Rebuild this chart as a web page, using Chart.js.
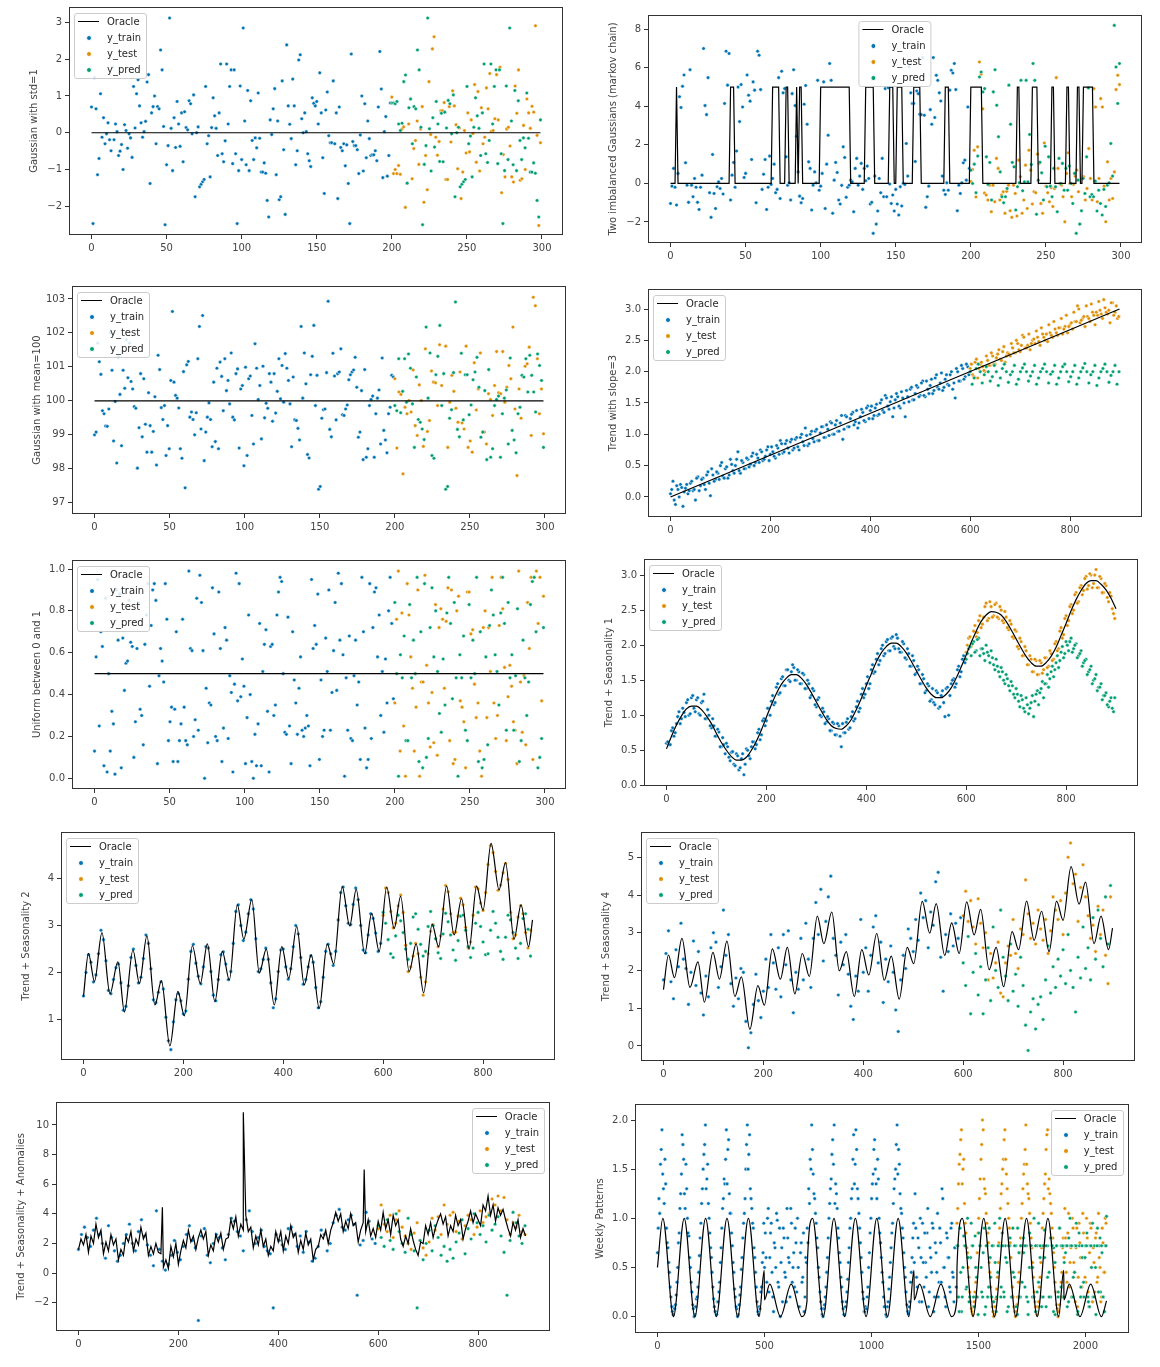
<!DOCTYPE html>
<html>
<head>
<meta charset="utf-8">
<script src="https://cdn.jsdelivr.net/npm/chart.js@4.4.0/dist/chart.umd.min.js"></script>
<style>
  body { margin: 0; background: #fff; width: 1160px; height: 1367px; position: relative; overflow: hidden; font-family: "DejaVu Sans", sans-serif; }
  .panel { position: absolute; }
  .panel canvas { display: block; }
  .legend { position: absolute; border: 1px solid #cccccc; border-radius: 3px; background: rgba(255,255,255,0.85);
            padding: 0 5px 0 3px; font: 10px "DejaVu Sans", sans-serif; color: #262626; }
  .legend .row { height: 16px; line-height: 16px; white-space: nowrap; }
  .legend .h { display: inline-block; width: 21px; height: 16px; vertical-align: top; position: relative; margin-right: 8px; }
  .legend .ln { position: absolute; left: 0; right: 0; top: 7px; height: 1.4px; background: #000; }
  .legend .dt { position: absolute; left: 8px; top: 5px; width: 4px; height: 4px; border-radius: 50%; border: 0.6px solid #fff; }
</style>
</head>
<body>
<script>
// ---- tick labels ----
const xTicks300 = [0, 50, 100, 150, 200, 250, 300];
const xTicks900 = [0, 200, 400, 600, 800];
const xTicks2100 = [0, 500, 1000, 1500, 2000];
const p1YTicks = [-2, -1, 0, 1, 2, 3];
const p2YTicks = [-2, 0, 2, 4, 6, 8];
const p3YTicks = [97, 98, 99, 100, 101, 102, 103];
const p4YTicks = [0, 0.5, 1, 1.5, 2, 2.5, 3];
const p5YTicks = [0, 0.2, 0.4, 0.6, 0.8, 1];
const p6YTicks = [0, 0.5, 1, 1.5, 2, 2.5, 3];
const p7YTicks = [1, 2, 3, 4];
const p8YTicks = [0, 1, 2, 3, 4, 5];
const p9YTicks = [-2, 0, 2, 4, 6, 8, 10];
const p10YTicks = [0, 0.5, 1, 1.5, 2];

// ---- 1: Gaussian with std=1 ----
const p1OracleX = [0, 299];
const p1OracleY = [0, 0];
const p1Train = [0.70,-2.47,1.5,0.65,-1.14,-0.70,1.06,-0.12,0.41,-0.30,-0.03,0.27,-0.19,-0.49,1.78,-0.19,0.24,0.03,-0.62,-0.50,-0.32,-1.0,0.22,0.06,-0.42,-0.03,-0.14,-0.67,1.26,0.13,1.06,1.44,0.73,0.27,-0.12,0.03,0.31,1.38,1.58,-1.38,0.54,0.71,1.0,-0.30,0.71,0.65,2.25,1.71,0.17,-2.5,-0.87,-0.35,3.12,0.12,-1.03,0.41,-0.40,0.85,0.24,-0.37,0.54,-0.79,0.57,0.14,0.08,0.87,0.79,-0.03,1.03,-1.74,0.0,0.16,-1.47,-1.40,-1.33,-1.27,1.26,-0.30,-0.08,-1.20,0.14,0.95,0.46,0.12,-0.62,0.54,1.87,-0.57,-0.79,-0.22,1.87,0.24,1.26,1.71,-0.84,1.71,-0.57,-2.47,-1.03,1.27,-0.73,2.85,0.32,-0.87,1.15,-1.03,0.87,-0.21,-0.73,-0.14,-0.41,1.08,-0.15,-1.07,-1.07,-0.82,-1.1,-1.84,-2.29,0.35,-0.05,0.65,1.2,-1.14,0.32,-1.82,-1.74,1.41,-0.46,-2.22,2.39,0.73,0.23,-0.16,1.46,0.73,-0.87,-0.49,1.98,2.12,0.38,0.0,0.54,0.03,-0.57,-0.76,-0.92,0.95,0.8,0.73,0.85,0.24,1.63,0.54,-0.68,-1.65,0.62,1.11,-0.08,-0.27,-0.27,1.41,-0.30,0.54,-1.79,0.70,-0.40,-0.49,-0.30,-0.90,-0.33,-1.38,-2.47,2.14,-0.24,-0.35,-0.35,-0.46,-1.11,-0.06,1.0,-1.04,0.79,-0.68,0.32,-0.16,-0.62,-0.60,-0.60,-0.49,-0.76,0.70,2.21,1.19,-1.22,0.03,0.44,-1.18,-0.62,0.81];
const p1Test = [0.97,-1.11,-1.0,-1.11,-0.89,-1.13,0.1,0.16,-2.03,-1.38,0.24,0.92,-1.25,-0.43,-0.21,0.32,-0.86,0.1,0.71,-1.89,-0.62,-1.55,1.39,-0.05,2.28,2.61,-0.12,-0.61,-0.24,0.6,0.6,0.82,-1.27,-1.27,0.71,-0.25,1.14,0.73,0.22,-0.98,0.13,-1.79,-1.07,0.06,-0.55,0.54,-0.52,0.35,-0.02,1.31,-0.8,1.12,-1.04,0.68,-0.30,-0.12,1.22,0.65,1.61,0.04,0.06,0.38,1.58,0.35,1.78,-1.63,-0.59,-1.2,0.1,0.15,-0.36,-1.20,-1.34,1.27,0.53,1.71,-1.29,-1.25,0.2,-1.0,0.92,0.54,0.12,0.72,0.56,2.91,-0.07,-2.52,-0.27];
const p1Pred = [0.81,0.81,0.79,0.85,0.24,0.06,0.26,1.39,1.57,-1.37,0.68,0.92,-0.30,0.71,0.65,2.25,1.71,0.15,-2.5,-0.86,-0.35,3.12,0.11,-1.04,0.41,-0.39,0.85,0.24,-0.78,0.53,-0.79,0.56,0.13,0.88,0.79,-0.03,1.03,-1.74,0.0,0.15,-1.47,-1.40,-1.33,-1.27,1.26,-0.30,-0.09,-1.20,0.15,0.95,0.46,0.12,-0.62,0.54,1.87,-0.57,-0.81,-0.21,1.87,0.24,1.26,1.71,-0.84,1.71,-0.57,-2.47,-1.03,1.27,-0.73,2.85,0.32,-0.87,1.15,-1.03,0.87,-0.21,-0.73,-0.14,-0.41,1.08,-0.15,-1.07,-1.07,-0.82,-1.1,-1.84,-2.29,0.35];

// ---- 2: Two imbalanced Gaussians (markov chain) ----
const p2OracleX = [0,3,4,5, 39,40,42,43, 67,68,72,73, 76,77,78,79, 83,84,85, 86,87,88, 99,100,119,120, 129,130,135,136, 145,146,148,149, 150,151,154,155, 161,162,166,167, 182,183,185,186, 199,200,207,208, 230,231,232,233, 240,241,244,245, 253,254,255,256, 263,264,265,266, 270,271,272,273, 274,275,281,282, 299];
const p2OracleY = [0,0,5,0, 0,5,5,0, 0,5,5,0, 0,5,5,0, 0,5,0, 5,5,0, 0,5,5,0, 0,5,5,0, 0,5,5,0, 0,5,5,0, 0,5,5,0, 0,5,5,0, 0,5,5,0, 0,5,5,0, 0,5,5,0, 0,5,5,0, 0,5,5,0, 0,5,5,0, 0,5,5,0, 0];
const p2Train = [-1.04,-0.14,0.78,-0.2,-1.12,0.52,4.5,3.94,5.04,5.63,1.07,-0.09,-0.98,5.9,-0.09,-0.69,0.26,-0.2,-0.98,-1.35,-0.2,0.43,7.0,4.04,3.57,5.49,-0.48,-1.76,1.5,-0.52,-1.3,-0.17,0.08,-0.26,0.26,-0.55,4.15,6.86,5.1,6.74,-0.86,0.43,1.09,-0.2,1.68,5.0,3.21,5.13,3.97,0.31,0.52,5.63,4.58,4.27,1.24,5.27,4.84,-1.0,6.86,6.65,4.87,-0.31,0.48,1.24,-1.35,-0.2,1.42,-0.05,0.26,1.0,-0.48,-0.31,5.49,-0.78,5.82,4.7,4.92,1.38,-0.09,0.03,-0.86,4.66,5.9,4.04,2.45,0.6,-0.66,-1.0,-0.78,4.11,5.08,3.07,1.12,0.78,-1.38,-0.09,0.6,0.03,5.35,-0.35,-0.14,0.52,5.27,-1.3,1.0,2.5,6.22,5.35,-1.55,0.17,1.09,0.57,-0.86,-1.07,-0.1,1.9,1.35,-0.72,-0.2,-0.09,0.17,0.08,-1.47,0.78,1.3,-0.09,0.38,1.04,-0.31,0.78,0.14,0.9,0.26,-1.07,-0.98,-2.59,0.38,-2.11,-1.43,0.26,-0.48,1.3,-0.69,4.92,-0.69,4.97,-0.03,-1.04,-0.6,-1.43,-0.31,-1.07,-1.64,-0.17,-1.17,0.0,-0.05,2.07,0.38,6.04,4.7,4.15,4.15,1.14,4.8,4.66,3.59,3.57,6.53,3.54,-1.24,-0.69,-0.14,3.83,3.07,6.53,3.42,5.61,5.35,4.7,4.28,0.38,-0.35,-0.57,0.03,-0.35,4.84,5.87,5.73,6.22,4.87,-1.42,-0.09,-0.52,0.03,1.07,1.21,0.17,3.97,0.78];
const p2Test = [0.1,0.72,1.72,-0.7,1.9,6.3,5.67,3.87,-0.5,-0.6,-0.86,-0.09,-1.47,-0.09,-0.95,1.3,0.78,-0.86,-0.6,-0.43,-1.55,-0.41,-0.09,-1.42,-1.76,-0.09,-0.52,-1.69,1.21,0.35,-1.55,-0.86,0.95,-1.3,1.72,0.69,-1.07,-0.43,-0.48,1.52,1.04,-1.04,-1.55,2.1,-0.14,-0.48,-0.95,-0.22,-1.2,-0.26,5.49,0.78,0.0,-0.09,-0.69,-1.99,0.52,1.59,0.0,-0.69,-0.05,0.38,0.69,-0.43,-2.11,0.26,0.35,-0.86,-0.26,1.81,0.26,-0.86,4.92,3.97,-0.95,0.26,4.4,3.97,-0.14,-1.99,1.12,-0.86,0.26,-0.78,0.6,4.87,5.61,5.13];
const p2Pred = [0.69,0.0,1.0,-0.48,1.42,5.52,5.78,4.75,4.92,1.38,-0.05,1.09,-0.86,4.75,5.9,4.06,2.42,0.6,-0.69,-1.0,-0.69,-0.26,5.1,3.07,1.09,0.86,-1.38,-0.17,0.03,5.35,-0.38,0.08,5.35,0.08,2.54,0.98,6.22,5.35,-1.6,0.17,1.1,0.55,-0.86,1.93,-0.17,1.38,-0.14,-0.69,0.78,-0.17,-1.47,1.3,0.0,1.04,-0.35,0.78,-0.35,0.9,0.0,-1.04,0.52,-2.59,0.17,-2.11,-1.42,0.26,-0.52,1.38,4.95,-0.69,-0.57,-0.69,0.12,-1.43,-0.35,-1.04,-1.64,-0.31,-1.2,-0.09,0.03,2.07,0.38,8.2,6.04,4.15,6.22];

// ---- 3: Gaussian with mean=100 ----
const p3OracleX = [0, 299];
const p3OracleY = [100, 100];
const p3Train = [99.0,99.08,101.7,101.15,100.78,99.71,99.62,99.26,99.25,99.76,102.0,100.9,98.82,99.98,98.17,101.3,100.19,98.68,100.9,100.37,101.8,100.68,101.7,100.57,100.35,99.83,99.78,98.02,99.21,100.8,98.94,100.65,99.31,98.49,100.24,99.27,98.49,99.1,100.12,98.11,101.34,100.92,99.8,99.45,99.86,98.39,99.27,98.59,100.6,102.63,100.55,100.16,100.08,99.79,98.59,98.31,100.86,97.44,101.06,101.16,99.52,99.67,99.45,99.0,99.65,101.24,102.19,99.17,102.51,98.24,99.08,99.52,99.94,99.45,98.65,100.55,98.8,100.96,98.59,101.14,100.72,99.71,101.24,100.3,100.6,99.91,101.41,99.52,99.44,100.8,100.94,98.61,100.35,100.45,98.09,100.99,98.39,100.65,100.73,99.57,98.73,101.68,100.96,100.04,100.45,98.88,101.02,99.5,99.93,99.78,100.8,100.55,99.4,100.8,99.64,100.28,101.24,100.06,101.04,99.96,101.39,100.96,100.6,99.91,98.65,100.7,99.44,99.42,99.19,98.85,102.19,100.08,101.41,100.5,98.42,98.32,100.77,101.31,102.22,99.86,100.75,97.4,97.48,99.49,99.74,99.76,100.83,102.93,99.16,98.94,101.4,100.73,99.44,100.8,100.85,101.53,99.59,99.57,99.76,99.88,100.62,100.77,100.85,100.91,101.28,100.4,98.93,99.08,100.3,98.27,100.92,98.34,98.59,99.86,100.04,100.14,98.34,99.62,100.08,100.32,98.73,101.26,99.13,98.85,98.47,99.62,99.81,100.75,100.7];
const p3Test = [100.65,98.61,100.26,100.19,97.85,99.81,99.62,100.01,99.67,100.91,99.27,98.98,100.47,100.01,98.66,101.53,99.1,99.42,100.88,100.55,100.53,99.86,101.65,100.45,100.8,101.61,98.63,99.96,100.75,100.28,99.78,99.37,100.85,99.35,99.17,101.61,98.63,98.82,98.49,101.12,99.73,100.35,101.41,99.08,99.08,98.73,100.21,100.04,99.57,100.45,101.45,100.24,100.21,101.45,99.96,100.4,101.04,100.65,102.17,99.76,97.8,100.35,99.49,100.7,101.02,101.09,101.58,98.98,103.05,102.8,101.24,99.62,100.35,99.03];
const p3Pred = [99.86,99.71,101.24,99.65,100.28,101.24,99.96,101.38,100.96,99.91,98.63,100.7,99.45,99.37,99.17,98.86,102.17,100.08,101.41,98.39,98.31,100.77,101.31,102.22,99.86,100.8,97.4,97.48,99.49,99.74,100.83,102.91,99.16,98.94,101.4,99.44,100.77,100.77,99.59,99.88,100.62,100.85,101.28,100.4,98.93,99.08,100.3,98.27,100.92,98.34,98.59,99.86,100.04,100.14,98.34,99.62,100.08,100.32,98.73,101.26,99.13,98.85,98.47,99.62,99.81,100.75,100.7,101.24,100.26,101.34,100.75,100.26,99.67,101.38,101.04,100.6,98.63];

// ---- 4: Trend with slope=3 (A: on the 5-step grid, B: between it) ----
const p4OracleX = [0, 899];
const p4OracleY = [0, 3];
const p4Train = [0.05,0.25,-0.12,0.12,0.2,-0.15,0.14,0.05,0.22,0.1,-0.05,0.32,0.18,0.3,0.12,0.4,0.02,0.35,0.28,0.38,0.5,0.33,0.45,0.3,0.6,0.42,0.5,0.72,0.38,0.55,0.45,0.6,0.52,0.7,0.55,0.62,0.75,0.58,0.65,0.8,0.68,0.72,0.62,0.78,0.9,0.7,0.85,0.78,0.88,0.75,0.92,0.8,0.95,0.88,1.1,0.82,1.0,0.93,1.05,0.9,1.02,1.12,0.95,1.08,1.2,1.0,1.15,1.05,1.18,0.92,1.3,1.12,1.25,1.35,1.2,1.1,1.28,1.35,1.2,1.45,1.38,1.25,1.42,1.3,1.5,1.38,1.62,1.45,1.52,1.28,1.55,1.6,1.42,1.58,1.28,1.6,1.72,1.55,1.65,1.75,1.62,1.85,1.6,1.72,1.78,1.65,1.9,1.75,1.82,1.7,1.88,1.8,1.95,1.72,1.58,2.0,1.85,2.05,1.92,2.08];
const p4TrainB = [0.12,-0.05,0.18,0.0,0.15,0.08,0.2,0.1,0.25,0.12,0.3,0.1,0.28,0.2,0.35,0.22,0.45,0.25,0.4,0.28,0.55,0.3,0.48,0.35,0.52,0.38,0.6,0.42,0.58,0.45,0.62,0.48,0.65,0.5,0.68,0.55,0.72,0.6,0.75,0.58,0.8,0.65,0.82,0.68,0.85,0.72,0.9,0.7,0.92,0.78,0.95,0.75,1.0,0.82,0.98,0.85,1.05,0.88,1.08,0.9,1.12,0.95,1.15,0.98,1.18,1.0,1.22,1.05,1.3,1.08,1.28,1.12,1.32,1.15,1.38,1.18,1.4,1.22,1.42,1.25,1.45,1.3,1.48,1.32,1.55,1.35,1.58,1.4,1.6,1.42,1.65,1.45,1.68,1.5,1.7,1.52,1.75,1.55,1.78,1.6,1.82,1.62,1.85,1.65,1.88,1.7,1.95,1.72,1.98,1.75,1.95,1.78,2.0,1.82,2.05,1.85,2.1,1.88,2.12,1.95];
const p4Test = [2.05,1.95,2.15,1.9,2.12,2.08,2.0,2.18,2.1,2.25,2.12,2.28,2.2,2.32,2.15,2.3,2.25,2.38,2.3,2.45,2.32,2.58,2.38,2.42,2.35,2.5,2.45,2.55,2.42,2.6,2.5,2.48,2.62,2.55,2.68,2.58,2.7,2.6,2.72,2.62,2.75,2.68,2.8,3.05,2.78,2.85,2.72,2.88,2.8,2.95,2.75,2.9,2.98,2.85,3.02,2.92,2.78,3.1,2.95,2.85];
const p4TestB = [2.12,1.92,2.2,2.05,2.15,2.02,2.25,2.1,2.3,2.12,2.22,2.35,2.18,2.4,2.25,2.28,2.45,2.3,2.5,2.35,2.42,2.55,2.38,2.6,2.45,2.52,2.65,2.48,2.7,2.55,2.6,2.75,2.58,2.8,2.62,2.7,2.85,2.68,2.9,2.72,2.78,2.95,2.8,3.0,2.82,2.88,3.05,2.85,3.08,2.9,2.95,3.12,2.92,3.15,2.95,2.98,3.1,2.9,3.05,2.88];
const p4Pred = [2.0,1.8,1.9,2.05,2.12,2.0,1.82,1.95,2.08,2.0,1.85,1.92,2.1,2.0,1.78,1.9,2.05,2.12,2.0,1.83,1.95,2.0,2.1,1.8,1.88,2.0,2.06,2.12,2.0,1.85,1.93,2.0,2.1,1.8,1.9,2.0,2.05,2.12,2.0,1.82,1.96,2.0,2.1,1.8,1.9,2.0,2.08,2.12,2.0,1.84,1.92,2.0,2.1,1.8,1.9,2.0,2.06,2.13,2.0,1.82,1.95,2.0,2.1,1.78,1.9,2.0,2.05,2.12,2.0,1.83,1.94,2.0,2.1,1.8,2.0];

// ---- 5: Uniform between 0 and 1 ----
const p5OracleX = [0, 299];
const p5OracleY = [0.5, 0.5];
const p5Train = [0.13,0.58,0.95,0.25,0.70,0.63,0.06,0.86,0.03,0.50,0.13,0.32,0.26,0.02,0.90,0.66,0.88,0.05,0.67,0.42,0.55,0.56,0.85,0.65,0.63,0.10,0.27,0.62,0.84,0.33,0.30,0.16,0.64,0.78,0.93,0.44,0.73,0.90,0.93,0.85,0.07,0.49,0.62,0.56,0.46,0.93,0.76,0.18,0.27,0.34,0.08,0.33,0.70,0.08,0.18,0.26,0.76,0.34,0.18,0.16,0.99,0.62,0.61,0.20,0.28,0.86,0.23,0.97,0.84,0.61,0.0,0.43,0.17,0.36,0.35,0.91,0.69,0.20,0.18,0.89,0.62,0.08,0.24,0.72,0.66,0.19,0.49,0.41,0.03,0.45,0.98,0.37,0.93,0.39,0.57,0.44,0.07,0.29,0.78,0.40,0.08,0.0,0.21,0.06,0.26,0.74,0.06,0.51,0.64,0.71,0.32,0.03,0.63,0.64,0.30,0.35,0.78,0.89,0.96,0.94,0.50,0.22,0.21,0.77,0.25,0.07,0.70,0.47,0.36,0.21,0.43,0.58,0.23,0.20,0.24,0.30,0.25,0.06,0.95,0.62,0.73,0.64,0.88,0.09,0.47,0.20,0.23,0.67,0.51,0.90,0.23,0.41,0.61,0.84,0.42,0.98,0.66,0.93,0.59,0.01,0.48,0.23,0.68,0.19,0.18,0.49,0.66,0.35,0.46,0.09,0.96,0.70,0.24,0.05,0.09,0.93,0.19,0.72,0.89,0.91,0.58,0.78,0.30,0.51,0.22,0.57,0.36,0.80,0.96,0.74,0.38];
const p5Test = [0.36,0.76,0.99,0.13,0.79,0.25,0.01,0.93,0.78,0.58,0.43,0.13,0.34,0.90,0.01,0.46,0.46,0.97,0.54,0.36,0.15,0.41,0.17,0.83,0.11,0.72,0.81,0.76,0.43,0.75,0.91,0.18,0.90,0.07,0.09,0.80,0.87,0.37,0.34,0.27,0.05,0.89,0.89,0.69,0.71,0.45,0.29,0.36,0.13,0.01,0.72,0.80,0.29,0.72,0.51,0.96,0.36,0.19,0.30,0.73,0.96,0.81,0.53,0.18,0.39,0.54,0.44,0.27,0.23,0.07,0.99,0.46,0.22,0.49,0.16,0.84,0.62,0.96,0.09,0.96,0.99,0.74,0.96,0.37,0.87];
const p5Pred = [0.84,0.50,0.01,0.59,0.48,0.68,0.18,0.18,0.83,0.48,0.66,0.50,0.96,0.08,0.70,0.05,0.93,0.10,0.19,0.72,0.91,0.58,0.80,0.51,0.31,0.22,0.57,0.35,0.79,0.96,0.74,0.38,0.84,0.48,0.01,0.59,0.48,0.68,0.23,0.18,0.83,0.48,0.66,0.50,0.96,0.08,0.70,0.05,0.09,0.58,0.16,0.73,0.90,0.78,0.59,0.51,0.35,0.79,0.96,0.74,0.23,0.84,0.48,0.59,0.23,0.49,0.81,0.08,0.18,0.66,0.48,0.30,0.46,0.83,0.94,0.96,0.70,0.05,0.10,0.19,0.72];

// ---- 6: Trend + Seasonality 1 ----
const p6Oracle = [0.52,0.70,0.86,0.99,1.09,1.13,1.13,1.08,0.99,0.88,0.74,0.61,0.50,0.41,0.36,0.36,0.40,0.50,0.63,0.79,0.97,1.15,1.31,1.44,1.53,1.58,1.58,1.53,1.44,1.32,1.19,1.06,0.94,0.85,0.81,0.80,0.85,0.94,1.08,1.24,1.42,1.59,1.76,1.89,1.98,2.03,2.03,1.98,1.89,1.77,1.64,1.51,1.39,1.30,1.25,1.25,1.30,1.39,1.53,1.69,1.86,2.04,2.20,2.34,2.43,2.48,2.47,2.43,2.34,2.22,2.09,1.96,1.84,1.75,1.70,1.70,1.75,1.84,1.97,2.14,2.31,2.49,2.65,2.78,2.88,2.92,2.92,2.87,2.79,2.67,2.52];
const p6Train = [0.60,0.58,0.78,0.70,0.88,1.05,0.95,1.04,1.18,1.00,1.25,1.10,1.22,1.02,1.18,1.30,0.95,1.00,0.82,0.85,0.70,0.76,0.55,0.58,0.60,0.40,0.47,0.30,0.45,0.22,0.38,0.15,0.52,0.42,0.55,0.62,0.58,0.80,0.72,0.95,0.92,1.10,1.20,1.15,1.40,1.30,1.52,1.42,1.65,1.50,1.62,1.68,1.50,1.62,1.45,1.58,1.38,1.45,1.28,1.35,1.12,1.25,0.98,1.05,0.90,0.95,0.78,0.88,0.72,0.85,0.55,0.75,0.90,0.80,0.98,0.92,1.12,1.05,1.30,1.25,1.45,1.38,1.65,1.60,1.80,1.72,1.95,1.85,2.05,1.92,2.10,1.98,2.15,1.95,1.90,2.02,1.80,1.88,1.70,1.78,1.60,1.65,1.45,1.52,1.35,1.42,1.22,1.18,1.35,1.10,1.28,1.18,1.38,1.00,1.45,1.52,1.45,1.70,1.62,1.85];
const p6TrainB = [0.62,0.58,0.82,0.75,0.98,0.88,1.10,0.98,1.22,1.02,1.28,1.05,1.25,1.00,1.20,0.95,1.08,0.85,0.95,0.70,0.80,0.55,0.68,0.45,0.55,0.35,0.48,0.28,0.42,0.25,0.45,0.30,0.50,0.38,0.62,0.52,0.75,0.65,0.92,0.85,1.10,1.00,1.28,1.18,1.45,1.32,1.55,1.42,1.65,1.48,1.72,1.50,1.65,1.45,1.60,1.38,1.50,1.25,1.38,1.15,1.22,1.00,1.10,0.88,0.98,0.78,0.90,0.72,0.88,0.70,0.88,0.75,0.95,0.82,1.05,0.95,1.20,1.10,1.38,1.30,1.55,1.45,1.72,1.62,1.88,1.78,2.00,1.88,2.08,1.92,2.12,1.95,2.10,1.90,2.05,1.82,1.95,1.70,1.85,1.58,1.70,1.45,1.58,1.32,1.45,1.20,1.38,1.15,1.32,1.12,1.35,0.98,1.40,1.28,1.50,1.40,1.65,1.55,1.80,1.75];
const p6Test = [1.90,2.10,1.98,2.20,2.12,2.35,2.25,2.40,2.60,2.38,2.55,2.42,2.60,2.38,2.50,2.32,2.40,2.22,2.30,2.10,2.20,1.95,2.05,1.85,1.92,1.72,1.80,1.62,1.78,1.58,1.75,1.65,1.82,1.70,1.88,1.80,2.05,1.95,2.25,2.15,2.42,2.35,2.58,2.50,2.75,2.62,2.85,2.78,2.98,2.85,3.00,2.88,3.08,2.82,2.95,2.75,2.85,2.62,2.70,2.45];
const p6TestB = [2.00,2.12,2.05,2.28,2.18,2.42,2.30,2.55,2.35,2.62,2.40,2.58,2.40,2.55,2.35,2.48,2.25,2.35,2.12,2.22,1.98,2.10,1.85,1.98,1.72,1.85,1.62,1.80,1.58,1.78,1.60,1.82,1.68,1.92,1.78,2.02,1.92,2.20,2.10,2.38,2.28,2.55,2.45,2.72,2.60,2.82,2.72,2.95,2.80,3.02,2.82,3.00,2.82,2.98,2.75,2.88,2.68,2.75,2.52,2.38];
const p6Pred = [1.80,1.95,1.85,2.05,1.92,2.10,1.95,1.88,2.00,1.85,1.92,1.72,1.80,1.62,1.68,1.50,1.58,1.42,1.48,1.30,1.38,1.20,1.28,1.10,1.25,1.02,1.18,0.98,1.30,1.15,1.38,1.25,1.45,1.40,1.62,1.55,1.75,1.68,1.90,1.82,2.05,1.92,2.10,1.95,2.02,1.85,1.92,1.75,1.80,1.62,1.70,1.50,1.58,1.40,1.45,1.28,1.32,1.12,1.25,1.05];
const p6PredB = [1.88,1.98,2.02,1.90,2.08,1.85,1.95,1.78,1.90,1.75,1.82,1.65,1.70,1.55,1.62,1.45,1.52,1.35,1.42,1.25,1.30,1.12,1.22,1.05,1.15,1.10,1.28,1.20,1.35,1.32,1.48,1.45,1.58,1.52,1.70,1.65,1.85,1.78,1.98,1.88,2.00,2.05,1.90,2.00,1.82,1.88,1.70,1.78,1.58,1.65,1.45,1.52,1.35,1.40,1.22,1.28,1.15,1.20,1.10,1.25];

// ---- 7 & 8: Trend + Seasonality (shared oracle) ----
const seasonOracleX = [0,10,22,37,53,69,82,99,112,127,143,156,173,189,202,218,234,248,263,278,292,308,321,337,352,366,382,397,411,427,442,456,472,488,501,518,533,546,563,577,592,607,622,635,652,666,681,698,711,727,742,757,772,787,800,816,832,845,862,876,891,899];
const seasonOracleY = [1.49,2.41,1.81,2.85,1.55,2.23,1.16,2.48,1.77,2.78,1.31,1.83,0.44,1.6,1.08,2.57,1.77,2.61,1.38,2.45,1.84,3.44,2.71,3.55,1.99,2.5,1.31,2.55,1.88,2.98,1.74,2.38,1.24,2.61,2.18,3.83,2.99,3.77,2.4,3.26,2.45,3.82,2.94,3.62,2.02,2.61,1.57,3.03,2.55,3.84,2.8,3.57,2.5,3.84,3.33,4.75,3.76,4.34,2.71,3.44,2.55,3.12];
const p7Train = [1.50,2.00,2.38,2.22,1.80,1.95,2.40,2.90,2.70,2.25,1.62,1.55,1.85,2.10,2.18,1.78,1.20,1.28,1.72,2.32,2.50,2.15,1.78,1.90,2.30,2.80,2.62,2.08,1.42,1.36,1.58,1.80,1.65,1.05,0.55,0.36,0.95,1.42,1.55,1.40,1.12,1.18,1.86,2.45,2.60,2.20,1.92,1.76,2.12,2.55,2.52,2.02,1.52,1.40,1.85,2.38,2.44,2.18,1.85,2.02,2.62,3.30,3.44,3.00,2.68,2.86,3.25,3.55,3.35,2.72,2.02,2.08,2.28,2.52,2.28,1.78,1.25,1.44,2.02,2.48,2.50,2.12,1.86,2.08,2.55,3.00,2.82,2.32,1.75,1.85,2.12,2.35,2.22,1.68,1.25,1.38,1.90,2.45,2.60,2.40,2.15,2.45,3.12,3.70,3.82,3.42,3.05,3.02,3.45,3.80,3.55,3.00,2.48,2.42,2.80,3.25,3.15,2.84,2.45,2.62];
const p7Test = [3.22,3.80,3.70,3.30,2.95,3.05,3.42,3.65,3.28,2.58,2.02,2.12,2.35,2.62,2.40,1.90,1.52,1.80,2.40,2.88,3.02,2.72,2.55,2.78,3.35,3.85,3.72,3.25,2.85,2.86,3.20,3.58,3.44,2.96,2.52,2.65,3.22,3.82,3.78,3.48,3.32,3.70,4.30,4.70,4.55,4.15,3.75,3.86,4.12,4.32,3.98,3.28,2.72,2.80,3.18,3.42,3.25,2.85,2.52,2.90];
const p7Pred = [3.28,3.05,2.70,2.40,2.32,2.78,3.22,3.10,2.85,2.50,2.28,2.62,3.18,3.25,2.92,2.60,2.35,2.45,2.98,3.30,3.00,2.72,2.42,2.30,2.82,3.26,3.08,2.80,2.48,2.26,2.68,3.20,3.22,2.90,2.55,2.32,2.52,3.05,3.28,2.98,2.65,2.38,2.40,2.90,3.30,3.05,2.75,2.45,2.28,2.75,3.22,3.12,2.85,2.52,2.30,2.62,3.15,3.25,2.92,2.35];
const p8Train = [1.75,2.45,3.05,1.70,1.25,2.55,2.10,3.25,2.30,2.05,1.10,1.95,2.78,1.60,2.50,1.40,0.82,1.85,1.30,2.60,3.00,2.75,1.55,2.10,3.60,2.40,2.95,1.65,1.05,1.80,1.25,2.05,1.95,0.65,-0.05,0.35,1.10,1.90,1.20,0.75,1.45,2.30,1.55,2.95,2.20,1.50,2.60,1.30,2.95,2.15,3.05,1.75,0.88,1.95,1.50,2.85,1.75,3.25,2.30,1.55,2.85,3.80,2.95,4.15,2.25,3.30,3.95,4.50,2.85,2.40,1.35,2.75,2.15,2.95,1.90,1.05,0.70,1.85,1.45,3.35,1.95,2.60,1.45,2.40,3.15,3.45,2.20,2.75,1.15,2.30,1.70,2.65,1.95,0.95,0.38,1.75,2.40,2.05,3.10,2.85,2.50,3.35,2.80,4.05,3.40,3.85,2.60,3.55,3.20,4.35,4.60,2.35,1.45,2.95,2.50,3.50,2.65,3.25,2.85,3.40];
const p8Test = [3.45,4.10,3.30,3.85,3.15,2.70,3.90,3.25,2.60,3.00,1.75,2.45,1.80,2.20,2.75,1.40,1.30,2.20,2.65,2.40,3.35,2.45,2.05,3.10,2.95,4.40,3.50,2.85,3.25,2.70,3.60,3.10,2.80,3.35,2.45,3.05,3.95,3.60,3.35,3.85,2.95,4.05,5.00,5.38,4.30,4.55,3.30,4.20,4.80,3.95,3.45,2.85,3.20,2.50,3.70,2.95,3.60,2.40,1.65,3.95];
const p8Pred = [2.20,1.60,2.90,0.85,1.95,2.45,1.35,2.10,0.85,1.75,2.60,1.20,3.15,2.00,1.55,3.60,2.35,1.85,1.20,2.70,1.45,1.90,1.05,2.35,1.60,0.55,-0.12,0.90,1.25,0.45,1.10,1.30,0.70,1.75,2.65,1.40,2.10,1.55,2.30,1.85,2.55,1.65,2.95,2.00,1.55,0.90,2.35,1.80,3.15,2.05,2.60,1.75,3.40,2.30,3.60,2.85,2.10,3.95,2.70,4.25];

// ---- 9: Trend + Seasonality + Anomalies ----
const p9Oracle = [1.6,2.3,1.9,2.6,1.4,2.5,2.0,3.3,2.4,2.9, 1.3,2.1,1.5,2.6,1.9,2.3,0.9,1.6,1.2,2.5, 2.1,2.8,1.5,2.3,1.9,3.1,2.3,2.7,1.2,1.8, 1.3,2.0,1.4,1.3,0.4,0.9,0.3,1.8,1.1,2.0, 0.6,1.5,2.2,1.7,2.9,2.1,2.5,1.6,2.4,2.9, 2.3,2.8,1.2,1.9,1.5,2.6,2.1,2.7,1.6,2.3, 2.4,3.6,3.0,3.8,2.5,3.3,2.9,3.9,2.8,3.1, 1.7,2.5,1.9,2.9,1.8,2.3,1.2,1.8,1.5,2.8, 2.1,2.8,1.5,2.5,2.0,3.2,2.4,2.7,1.4,2.2, 1.6,2.7,1.9,2.3,0.9,1.6,1.8,2.6,2.3,2.9, 2.0,2.9,3.4,4.1,3.5,4.0,2.8,3.5,3.0,4.0, 3.2,3.4,2.1,2.9,3.4,2.8,3.6,2.5,3.0,2.4, 3.5,2.9,4.1,3.0,3.6,2.6,3.9,3.2,3.6,2.3, 1.8,2.5,2.0,3.0,2.2,1.6,1.2,2.1,2.0,3.2, 2.6,3.4,2.4,3.1,3.6,4.0,3.3,3.8,2.5,3.2, 2.8,3.9,3.2,3.6,2.3,3.0,3.5,4.2,3.4,4.0, 3.6,3.2,4.6,4.2,5.2,3.9,4.6,3.5,4.4,3.9, 4.3,3.6,3.0,2.5,3.4,2.9,3.6,2.4,3.0,2.5];
const p9SpikeX = [168, 330, 572];
const p9SpikeY = [4.45, 10.85, 7.0];
const p9Train = [1.6,2.6,3.1,2.4,1.8,2.9,3.7,2.6,2.0,1.0,3.2,2.4,1.5,0.8,1.2,2.0,2.6,3.3,2.0,1.5,2.8,3.6,2.5,1.9,1.2,0.5,4.2,1.6,0.8,0.2,0.6,1.2,2.2,1.4,0.9,1.8,2.6,3.2,2.2,1.7,-3.2,2.5,3.0,1.2,0.7,2.0,2.6,2.4,1.7,0.9,2.6,3.7,3.5,2.8,2.5,1.5,3.6,4.2,2.8,2.0,2.4,2.9,1.8,1.5,1.3,-2.35,2.6,2.2,1.9,1.6,3.0,3.1,2.6,1.8,2.5,1.4,2.8,2.1,0.8,1.0,1.8,2.9,2.6,1.5,2.0,3.4,3.9,4.3,3.1,2.9,3.6,3.9,3.3,-1.5,1.9,2.2,4.1,3.5,2.3,2.0];
const p9Test = [3.0,4.6,3.3,2.8,3.9,2.4,3.6,4.2,3.1,2.5,2.0,1.6,2.7,3.4,2.2,1.7,1.2,2.1,3.7,2.9,3.8,2.6,4.6,3.3,3.9,4.1,2.8,3.5,2.3,3.2,3.9,3.6,2.6,3.1,4.2,3.4,3.8,4.0,5.0,4.6,5.2,4.2,5.1,3.6,2.6,3.4,3.1,3.9,2.8,2.6];
const p9Pred = [3.2,2.4,1.8,3.6,2.2,1.6,4.0,2.8,2.0,1.4,3.7,2.6,1.5,-2.35,2.2,0.9,2.0,2.9,1.5,3.2,2.4,1.2,1.8,0.8,1.6,1.0,2.1,2.7,3.6,1.3,3.0,2.3,4.0,3.4,2.6,3.2,2.1,3.9,2.9,3.3,3.8,2.5,1.4,-1.5,2.2,4.1,3.4,2.5,2.0,3.2];

// ---- 10: Weekly Patterns ----
const weekOracleX = [0,25,75,125,175,225,275,325,375,425,475,499,500,525,575,625,675,699,700,725,775,825,875,925,975,1025,1075,1125,1175,1199,1200,1225,1275,1325,1375,1399,1400,1425,1475,1525,1575,1625,1675,1725,1775,1825,1875,1899,1900,1925,1975,2025,2075,2099];
const weekOracleY = [0.5,1,0,1,0,1,0,1,0,1,0,0.47,0.17,0.33,0,0.33,0,0.16,0.5,1,0,1,0,1,0,1,0,1,0,0.47,0.17,0.33,0,0.33,0,0.16,0.5,1,0,1,0,1,0,1,0,1,0,0.47,0.17,0.33,0,0.33,0,0.16];
const p10Train = [0.65,1.2,1.55,1.9,1.3,1.6,0.9,0.7,0.45,0.2,0.05,0.1,0.12,0.35,0.75,1.1,1.45,1.75,1.25,1.55,1.0,0.82,0.5,0.25,0.08,0.02,0.18,0.3,0.62,0.95,1.3,1.65,1.95,1.4,1.15,0.85,0.6,0.3,0.1,0.05,0.15,0.25,0.55,0.9,1.2,1.35,1.9,1.7,1.25,1.05,0.72,0.45,0.2,0.08,0.02,0.22,0.48,0.8,1.05,1.5,1.95,1.65,1.3,1.1,0.9,0.6,0.3,0.05,0.1,0.25,0.55,0.95,
  0.85,0.35,1.1,0.6,0.95,0.2,0.75,0.5,0.98,0.3,0.0,0.7,0.9,0.45,0.15,0.8,0.55,1.1,0.35,0.65,0.9,0.25,0.5,0.1,0.75,0.4,0.05,0.6,
  0.9,1.3,1.6,1.95,1.45,1.2,0.95,0.7,0.4,0.15,0.02,0.08,0.2,0.45,0.8,1.15,1.4,1.8,1.95,1.35,1.1,0.8,0.55,0.3,0.08,0.02,0.15,0.38,0.7,1.0,1.3,1.85,1.55,1.7,1.2,0.9,0.6,0.25,0.05,0.1,0.2,0.5,0.85,1.2,1.45,1.8,1.35,1.6,1.0,0.75,0.45,0.2,0.1,0.0,0.15,0.4,0.7,0.95,1.3,1.5,1.95,1.7,1.25,1.05,0.8,0.5,0.25,0.05,0.1,0.35,0.6,0.95,
  1.25,0.4,0.8,0.15,0.6,0.95,0.3,0.55,0.85,0.1,0.7,0.45,0.9,0.2,0.65,1.05,0.35,0.75,1.3,0.5,0.2,0.85,0.6,0.3,0.9,0.45,0.15,0.7];
const p10TrainB = [0.9,1.05,1.7,1.45,1.15,1.35,0.75,0.55,0.3,0.1,0.02,0.08,0.22,0.5,0.85,1.25,1.85,1.6,1.1,1.3,0.85,0.6,0.35,0.12,0.0,0.1,0.2,0.45,0.8,1.15,1.5,1.75,1.3,1.55,1.0,0.7,0.45,0.18,0.05,0.02,0.15,0.35,0.7,1.1,1.4,1.6,1.35,1.8,1.05,0.85,0.55,0.28,0.1,0.0,0.12,0.3,0.6,0.95,1.2,1.75,1.5,1.85,1.2,0.95,0.7,0.45,0.15,0.02,0.08,0.3,0.65,0.5,
  0.6,1.0,0.25,0.85,0.45,0.05,0.7,1.05,0.35,0.9,0.55,0.15,0.8,0.4,1.1,0.6,0.2,0.95,0.5,0.3,0.75,1.0,0.1,0.65,0.35,0.85,0.2,0.55,
  0.75,1.15,1.5,1.7,1.25,1.05,0.8,0.5,0.25,0.08,0.0,0.12,0.3,0.6,1.0,1.3,1.65,1.55,1.15,1.25,0.9,0.65,0.4,0.15,0.02,0.1,0.25,0.55,0.9,1.2,1.6,1.35,1.9,1.3,1.05,0.75,0.45,0.18,0.05,0.08,0.3,0.65,1.0,1.35,1.7,1.5,1.2,1.4,0.85,0.6,0.35,0.1,0.02,0.1,0.28,0.55,0.85,1.15,1.4,1.75,1.45,1.55,1.1,0.9,0.65,0.4,0.12,0.03,0.15,0.45,0.8,0.55,
  0.9,0.3,0.7,1.0,0.15,0.55,0.85,0.4,1.1,0.25,0.6,0.95,0.05,0.75,0.45,0.2,0.9,0.35,1.2,0.5,0.1,0.8,0.6,0.25,0.95,0.4,0.7,0.3];
const p10Test = [0.95,1.35,1.65,1.9,1.5,1.15,0.85,0.65,0.4,0.15,0.05,0.1,0.25,0.5,0.85,1.2,1.6,2.0,1.4,1.25,0.95,0.75,0.45,0.2,0.05,0.02,0.18,0.4,0.75,1.1,1.35,1.6,1.9,1.45,1.15,0.9,0.6,0.3,0.1,0.0,0.12,0.35,0.65,1.0,1.3,1.55,1.95,1.35,1.2,0.95,0.7,0.4,0.15,0.05,0.1,0.3,0.55,0.9,1.2,1.45,1.85,1.3,1.25,1.05,0.8,0.5,0.25,0.08,0.05,0.2,0.45,0.8,
  1.1,0.45,0.85,0.3,0.7,1.0,0.55,0.15,0.9,0.4,0.75,0.2,1.05,0.6,0.35,0.8,0.1,0.95,0.5,0.7,0.25,0.85,0.4,0.6,0.15,0.9,0.45,1.0];
const p10TestB = [1.1,1.55,1.8,1.35,1.6,0.95,0.7,0.5,0.25,0.08,0.02,0.15,0.35,0.65,1.0,1.4,1.75,1.9,1.3,1.05,0.85,0.55,0.3,0.1,0.0,0.1,0.28,0.55,0.9,1.25,1.5,1.8,1.6,1.3,1.0,0.75,0.45,0.2,0.05,0.05,0.2,0.45,0.8,1.15,1.45,1.7,1.55,1.25,1.05,0.8,0.55,0.25,0.1,0.02,0.15,0.4,0.7,1.05,1.35,1.7,1.9,1.4,1.15,0.9,0.65,0.35,0.12,0.0,0.12,0.35,0.7,0.6,
  0.8,0.35,1.05,0.55,0.2,0.9,0.45,0.7,0.1,0.95,0.6,0.3,0.85,0.4,1.0,0.25,0.65,0.9,0.15,0.55,0.8,0.35,1.05,0.5,0.2,0.75,0.45,0.95];
const p10Pred = [0.72,0.2,0.9,0.05,0.5,0.72,0.28,1.0,0.15,0.6,0.72,0.2,0.82,0.4,0.02,0.72,0.5,0.2,0.9,0.1,0.72,0.3,0.6,0.2,0.72,0.95,0.05,0.45,0.72,0.2,0.85,0.25,0.72,0.55,0.1,0.72,0.2,0.9,0.4,0.72,0.02,0.65,0.2,0.72,0.8,0.3,0.72,0.15,0.5,0.72,0.2,1.0,0.05,0.72,0.35,0.6,0.2,0.72,0.88,0.1,0.72,0.45,0.2,0.72,0.7,0.02,0.72,0.25,0.9,0.72,0.2,0.55,0.72,0.1,0.8,0.72,0.2,0.4,0.72,0.95,0.05,0.72,0.3,0.6,0.2,0.72,0.85,0.15,0.72,0.5,0.2,0.72,0.02,0.9,0.72,0.25,0.65,0.2,0.72,1.02];
const p10PredB = [0.72,0.05,0.45,0.2,0.82,0.72,0.3,0.6,0.2,0.95,0.72,0.1,0.5,0.2,0.85,0.72,0.25,0.65,0.02,0.72,0.2,0.9,0.4,0.72,0.15,0.55,0.2,0.72,1.0,0.3,0.72,0.2,0.6,0.05,0.72,0.8,0.2,0.45,0.72,0.1,0.9,0.2,0.72,0.35,0.65,0.72,0.2,0.02,0.85,0.72,0.5,0.2,0.72,0.25,0.95,0.72,0.1,0.2,0.6,0.72,0.4,0.2,0.8,0.72,0.05,0.55,0.72,0.2,0.9,0.3,0.72,0.2,0.65,0.72,0.15,1.0,0.72,0.2,0.45,0.72,0.02,0.85,0.2,0.72,0.35,0.6,0.72,0.2,0.1,0.72,0.95,0.2,0.5,0.72,0.25,0.8,0.72,0.2,0.05,0.72];

// ---- helpers ----
function spread(values, x0, x1) {
  const n = values.length;
  return values.map((y, i) => ({ x: x0 + (x1 - x0) * i / (n - 1), y: y }));
}
function pairs(xs, ys) {
  return xs.map((x, i) => ({ x: x, y: ys[i] }));
}

const COLORS = { train: '#0173b2', test: '#de8f05', pred: '#029e73' };
const ML = 50, PT = 12, PR = 12, XB = 26;
const FONT = 'DejaVu Sans';
Chart.defaults.font.family = FONT;

const oracle9 = spread(p9Oracle, 0, 895).concat(pairs(p9SpikeX, p9SpikeY)).sort((a, b) => a.x - b.x);

const panels = [
  { box: [69, 7, 563, 235], title: 'Gaussian with std=1', xr: [-15, 314], yr: [-2.78, 3.42], xt: xTicks300, yt: p1YTicks, dec: 0, legend: 'left',
    oracle: pairs(p1OracleX, p1OracleY), smooth: false,
    train: spread(p1Train, 0, 199), test: spread(p1Test, 200, 299), pred: spread(p1Pred, 200, 299) },
  { box: [648, 15, 1142, 243], title: 'Two imbalanced Gaussians (markov chain)', xr: [-15, 314], yr: [-3.09, 8.74], xt: xTicks300, yt: p2YTicks, dec: 0, legend: 'center',
    oracle: pairs(p2OracleX, p2OracleY), smooth: false,
    train: spread(p2Train, 0, 199), test: spread(p2Test, 200, 299), pred: spread(p2Pred, 200, 299) },
  { box: [72, 286, 566, 514], title: 'Gaussian with mean=100', xr: [-15, 314], yr: [96.67, 103.38], xt: xTicks300, yt: p3YTicks, dec: 0, legend: 'left',
    oracle: pairs(p3OracleX, p3OracleY), smooth: false,
    train: spread(p3Train, 0, 199), test: spread(p3Test, 200, 299), pred: spread(p3Pred, 200, 299) },
  { box: [648, 289, 1142, 517], title: 'Trend with slope=3', xr: [-45, 944], yr: [-0.32, 3.32], xt: xTicks900, yt: p4YTicks, dec: 1, legend: 'left',
    oracle: pairs(p4OracleX, p4OracleY), smooth: false,
    train: spread(p4Train, 0, 595).concat(spread(p4TrainB, 2.5, 597.5)),
    test: spread(p4Test, 600, 895).concat(spread(p4TestB, 602.5, 897.5)),
    pred: spread(p4Pred, 600, 898) },
  { box: [72, 560, 566, 789], title: 'Uniform between 0 and 1', xr: [-15, 314], yr: [-0.051, 1.043], xt: xTicks300, yt: p5YTicks, dec: 1, legend: 'left',
    oracle: pairs(p5OracleX, p5OracleY), smooth: false,
    train: spread(p5Train, 0, 199), test: spread(p5Test, 200, 299), pred: spread(p5Pred, 200, 299) },
  { box: [644, 559, 1138, 786], title: 'Trend + Seasonality 1', xr: [-45, 944], yr: [-0.01, 3.23], xt: xTicks900, yt: p6YTicks, dec: 1, legend: 'left',
    oracle: spread(p6Oracle, 0, 900), smooth: true,
    train: spread(p6Train, 0, 595).concat(spread(p6TrainB, 2.5, 597.5)),
    test: spread(p6Test, 600, 895).concat(spread(p6TestB, 602.5, 897.5)),
    pred: spread(p6Pred, 600, 895).concat(spread(p6PredB, 602.5, 897.5)) },
  { box: [61, 832, 555, 1060], title: 'Trend + Seasonality 2', xr: [-45, 944], yr: [0.14, 4.99], xt: xTicks900, yt: p7YTicks, dec: 0, legend: 'left',
    oracle: pairs(seasonOracleX, seasonOracleY), smooth: true,
    train: spread(p7Train, 0, 595), test: spread(p7Test, 600, 895), pred: spread(p7Pred, 600, 895) },
  { box: [641, 832, 1135, 1061], title: 'Trend + Seasonality 4', xr: [-45, 944], yr: [-0.4, 5.67], xt: xTicks900, yt: p8YTicks, dec: 0, legend: 'left',
    oracle: pairs(seasonOracleX, seasonOracleY), smooth: true,
    train: spread(p8Train, 0, 595), test: spread(p8Test, 600, 895), pred: spread(p8Pred, 600, 895) },
  { box: [56, 1102, 550, 1331], title: 'Trend + Seasonality + Anomalies', xr: [-45, 944], yr: [-3.91, 11.55], xt: xTicks900, yt: p9YTicks, dec: 0, legend: 'right',
    oracle: oracle9, smooth: false,
    train: spread(p9Train, 0, 594), test: spread(p9Test, 600, 894), pred: spread(p9Pred, 600, 894) },
  { box: [635, 1104, 1129, 1333], title: 'Weekly Patterns', xr: [-105, 2204], yr: [-0.167, 2.163], xt: xTicks2100, yt: p10YTicks, dec: 1, legend: 'right',
    oracle: pairs(weekOracleX, weekOracleY), smooth: true,
    train: spread(p10Train, 0, 1393).concat(spread(p10TrainB, 3.5, 1396.5)),
    test: spread(p10Test, 1400, 2093).concat(spread(p10TestB, 1403.5, 2096.5)),
    pred: spread(p10Pred, 1400, 2099).concat(spread(p10PredB, 1403.5, 2096.5)) },
];

function fmt(v, dec) {
  const s = Math.abs(v).toFixed(dec);
  return v < 0 ? '\u2212' + s : s;
}

// draws the four spines round the plot area
const frame = {
  id: 'frame',
  afterDraw(chart) {
    const a = chart.chartArea, ctx = chart.ctx;
    ctx.save();
    ctx.strokeStyle = '#333';
    ctx.lineWidth = 1;
    ctx.strokeRect(Math.round(a.left) + 0.5, Math.round(a.top) + 0.5, Math.round(a.right - a.left) - 1, Math.round(a.bottom - a.top) - 1);
    ctx.restore();
  }
};

function scatterSet(label, data, color, order) {
  return { label: label, data: data, backgroundColor: color, borderColor: '#ffffff', borderWidth: 0.5,
           pointRadius: 1.8, pointHoverRadius: 1.8, showLine: false, order: order };
}

panels.forEach(p => {
  const [l, t, r, b] = p.box;
  const W = r - l + ML + PR, H = b - t + PT + XB;
  const wrap = document.createElement('div');
  wrap.className = 'panel';
  wrap.style.left = (l - ML) + 'px';
  wrap.style.top = (t - PT) + 'px';
  wrap.style.width = W + 'px';
  wrap.style.height = H + 'px';
  const canvas = document.createElement('canvas');
  canvas.width = W; canvas.height = H;
  canvas.style.width = W + 'px'; canvas.style.height = H + 'px';
  wrap.appendChild(canvas);
  document.body.appendChild(wrap);

  const tickFont = { family: FONT, size: 10 };
  new Chart(canvas, {
    type: 'scatter',
    data: {
      datasets: [
        { label: 'Oracle', data: p.oracle, showLine: true, borderColor: '#000', borderWidth: 1.2, pointRadius: 0,
          fill: false, cubicInterpolationMode: p.smooth ? 'monotone' : 'default', tension: 0, order: 0 },
        scatterSet('y_train', p.train, COLORS.train, 3),
        scatterSet('y_test', p.test, COLORS.test, 2),
        scatterSet('y_pred', p.pred, COLORS.pred, 1),
      ]
    },
    options: {
      responsive: false,
      animation: false,
      devicePixelRatio: 1,
      layout: { autoPadding: false, padding: { top: PT, right: PR, left: 0, bottom: 0 } },
      plugins: { legend: { display: false }, tooltip: { enabled: false } },
      scales: {
        x: {
          type: 'linear', min: p.xr[0], max: p.xr[1],
          afterBuildTicks: ax => { ax.ticks = p.xt.map(v => ({ value: v })); },
          afterFit: ax => { ax.height = XB; },
          ticks: { font: tickFont, color: '#444', padding: 3, maxRotation: 0, autoSkip: false, callback: v => fmt(v, 0) },
          grid: { drawOnChartArea: false, drawTicks: true, tickLength: 4, tickColor: '#333' },
          border: { display: false }
        },
        y: {
          type: 'linear', min: p.yr[0], max: p.yr[1],
          afterBuildTicks: ax => { ax.ticks = p.yt.map(v => ({ value: v })); },
          afterFit: ax => { ax.width = ML; },
          ticks: { font: tickFont, color: '#444', padding: 3, autoSkip: false, callback: v => fmt(v, p.dec) },
          grid: { drawOnChartArea: false, drawTicks: true, tickLength: 4, tickColor: '#333' },
          border: { display: false },
          title: { display: true, text: p.title, color: '#444', font: { family: FONT, size: 10 }, padding: { top: 9, bottom: 0 } }
        }
      }
    },
    plugins: [frame]
  });

  // legend, inside the axes like matplotlib's
  const lg = document.createElement('div');
  lg.className = 'legend';
  const rows = [['Oracle', null], ['y_train', COLORS.train], ['y_test', COLORS.test], ['y_pred', COLORS.pred]];
  lg.innerHTML = rows.map(([name, c]) =>
    '<div class="row"><span class="h">' + (c ? '<i class="dt" style="background:' + c + '"></i>' : '<i class="ln"></i>') + '</span>' + name + '</div>'
  ).join('');
  lg.style.top = (PT + 6) + 'px';
  if (p.legend === 'left') {
    lg.style.left = (ML + 5) + 'px';
  } else if (p.legend === 'right') {
    lg.style.right = (PR + 5) + 'px';
  } else {
    lg.style.left = (ML + (r - l) / 2) + 'px';
    lg.style.transform = 'translateX(-50%)';
  }
  wrap.appendChild(lg);
});
</script>
</body>
</html>
